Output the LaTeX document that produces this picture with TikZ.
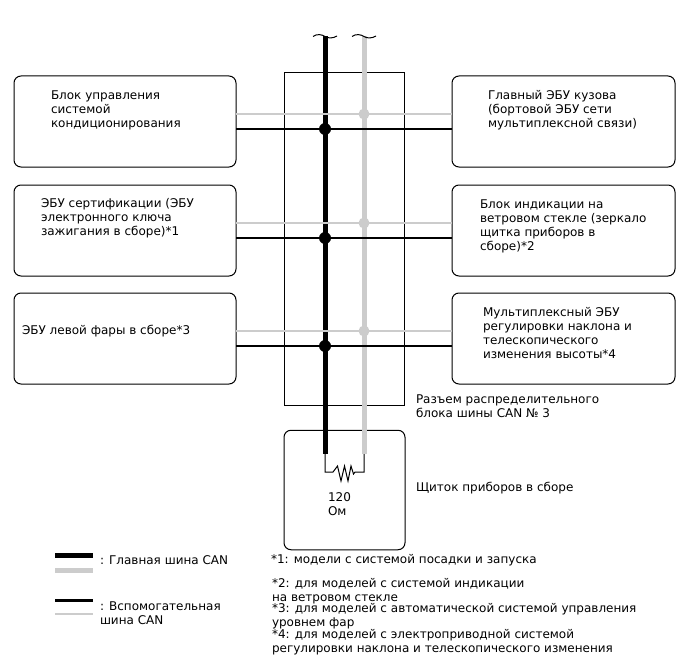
\documentclass[tikz,border=0pt]{standalone}
\usepackage{fontspec}
\setmainfont{DejaVu Sans}
\definecolor{busgrey}{RGB}{204,204,204}
\tikzset{
 x=1pt,y=-1pt,
 ecu/.style={draw,line width=1pt,rounded corners=7pt,minimum width=222pt,minimum height=91pt,inner sep=0pt,outer sep=0pt},
 lbl/.style={anchor=base west,inner sep=0pt,outer sep=0pt,font=\fontsize{12pt}{14pt}\selectfont,align=left},
 mainblk/.style={line width=5pt,black},
 maingry/.style={line width=5pt,busgrey},
 subblk/.style={line width=2.6pt,black},
 subgry/.style={line width=2.6pt,busgrey},
 dot/.style={circle,fill,inner sep=0pt,minimum size=11pt},
}
\begin{document}
\begin{tikzpicture}
\useasboundingbox (0,0) rectangle (688,658);
\node[ecu] (l1) at (125,121.5) {};
\node[ecu] (l2) at (125,230.5) {};
\node[ecu] (l3) at (125,338.5) {};
\node[ecu,minimum width=223pt] (r1) at (563.5,121.5) {};
\node[ecu,minimum width=223pt] (r2) at (563.5,230.5) {};
\node[ecu,minimum width=223pt] (r3) at (563.5,338.5) {};
\node[draw,line width=.8pt,minimum width=120pt,minimum height=333pt,inner sep=0pt,outer sep=0pt] (conn) at (344,238.5) {};
\node[draw,line width=1pt,rounded corners=7pt,minimum width=121pt,minimum height=119.5pt,inner sep=0pt,outer sep=0pt] (meter) at (344.5,490) {};
\coordinate (bt) at (325,36); \coordinate (bb) at (325,454);
\coordinate (gt) at (364,36); \coordinate (gb) at (364,454);
\draw[maingry] (gt) -- (gb);
\draw[mainblk] (bt) -- (bb);
\foreach \n/\a/\b in {1/114/129,2/223/238,3/331/346}{
 \coordinate (g\n) at (364,\a);
 \coordinate (k\n) at (325,\b);
 \draw[subgry] (l\n.east |- g\n) -- (r\n.west |- g\n);
 \node[dot,busgrey] (gd\n) at (g\n) {};
 \draw[subblk] (l\n.east |- k\n) -- (r\n.west |- k\n);
 \node[dot,black,minimum size=12pt] (kd\n) at (k\n) {};
}
\draw[line width=1pt] (313,36.5) .. controls (317,33.5) and (322,34.5) .. (325,36.5) .. controls (328,38.5) and (333,38.5) .. (337,36);
\draw[line width=1pt] (352,36.5) .. controls (356,33.5) and (361,34.5) .. (364,36.5) .. controls (367,38.5) and (372,38.5) .. (376,36);
\draw[line width=1pt,line join=miter] (bb) -- (325,472) -- (333,472) -- (337.5,466) -- (341,481) -- (344.5,466) -- (348,481) -- (351,466) -- (353.5,474) -- (355,472) -- (364,472) -- (gb);
\node[lbl] (t1) at (51,128) {Блок управления\\системой\\кондиционирования};
\node[lbl] (t2) at (41,235) {ЭБУ сертификации (ЭБУ\\электронного ключа\\зажигания в сборе)*1};
\node[lbl] (t3) at (22,334) {ЭБУ левой фары в сборе*3};
\node[lbl] (t4) at (488,128) {Главный ЭБУ кузова\\(бортовой ЭБУ сети\\мультиплексной связи)};
\node[lbl] (t5) at (480,250) {Блок индикации на\\ветровом стекле (зеркало\\щитка приборов в\\сборе)*2};
\node[lbl] (t6) at (483,358) {Мультиплексный ЭБУ\\регулировки наклона и\\телескопического\\изменения высоты*4};
\node[lbl] (t7) at (416,417) {Разъем распределительного\\блока шины CAN № 3};
\node[lbl] (t8) at (416,491) {Щиток приборов в сборе};
\node[lbl] (t9) at (328,515) {120\\Ом};
\coordinate (a1) at (55,555.5); \coordinate (a2) at (93,555.5);
\coordinate (b1) at (55,570); \coordinate (b2) at (93,570);
\coordinate (c1) at (55,600.5); \coordinate (c2) at (93,600.5);
\coordinate (d1) at (55,614); \coordinate (d2) at (93,614);
\draw[mainblk] (a1) -- (a2);
\draw[maingry] (b1) -- (b2);
\draw[subblk] (c1) -- (c2);
\draw[subgry] (d1) -- (d2);
\node[lbl] (t10) at (100,564) {: Главная шина CAN};
\node[lbl] (t11) at (100,624) {: Вспомогательная\\шина CAN};
\node[lbl] (n1) at (271,563) {*1: модели с системой посадки и запуска};
\node[lbl] (n2) at (272,601) {*2: для моделей с системой индикации\\на ветровом стекле};
\node[lbl] (n3) at (272,626) {*3: для моделей с автоматической системой управления\\уровнем фар};
\node[lbl] (n4) at (272,652) {*4: для моделей с электроприводной системой\\регулировки наклона и телескопического изменения};
\end{tikzpicture}
\end{document}
